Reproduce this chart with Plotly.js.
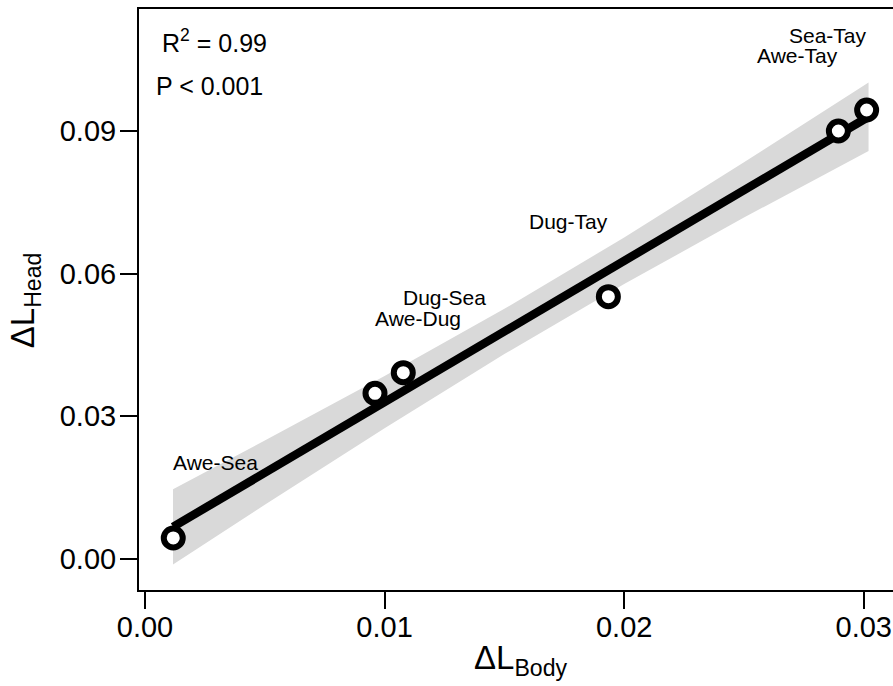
<!DOCTYPE html>
<html>
<head>
<meta charset="utf-8">
<script src="https://cdn.plot.ly/plotly-3.0.1.min.js"></script>
<style>
  html, body { margin: 0; padding: 0; background: #ffffff; }
  #chart { width: 893px; height: 686px; }
</style>
</head>
<body>
<div id="chart"></div>
<script>
// Pairwise population comparisons
const pairLabels = ["Awe-Sea", "Awe-Dug", "Dug-Sea", "Dug-Tay", "Awe-Tay", "Sea-Tay"];
const deltaBody  = [0.00118, 0.00960, 0.01078, 0.01934, 0.02894, 0.03012];
const deltaHead  = [0.00442, 0.03484, 0.03918, 0.05516, 0.09000, 0.09441];
const labelSide  = ["left", "left", "left", "right", "right", "right"];

// Fitted regression line
const fitX = [0.00117, 0.0302];
const fitY = [0.00675, 0.0930];

// Confidence band
const bandX     = [0.00117, 0.005, 0.010, 0.015, 0.020, 0.025, 0.0302];
const bandUpper = [0.01466, 0.0249, 0.0385, 0.0526, 0.0676, 0.0834, 0.1002];
const bandLower = [-0.00116, 0.0114, 0.0275, 0.0431, 0.0578, 0.0718, 0.0858];

const xTicks = [0.00, 0.01, 0.02, 0.03];
const xTickText = ["0.00", "0.01", "0.02", "0.03"];
const yTicks = [0.00, 0.03, 0.06, 0.09];
const yTickText = ["0.00", "0.03", "0.06", "0.09"];

const xTitle = "ΔL<sub>Body</sub>";
const yTitle = "ΔL<sub>Head</sub>";

const FONT = "Liberation Sans, Arial, Helvetica, sans-serif";

const traces = [
  {
    x: bandX.concat(bandX.slice().reverse()),
    y: bandUpper.concat(bandLower.slice().reverse()),
    type: "scatter", mode: "lines", fill: "toself",
    fillcolor: "#d9d9d9", line: { width: 0, color: "rgba(0,0,0,0)" },
    hoverinfo: "skip", showlegend: false
  },
  {
    x: fitX, y: fitY, type: "scatter", mode: "lines",
    line: { color: "#000000", width: 8.5 },
    showlegend: false
  },
  {
    x: deltaBody, y: deltaHead, type: "scatter", mode: "markers",
    marker: { size: 19, color: "#ffffff", line: { color: "#000000", width: 6 } },
    cliponaxis: false,
    showlegend: false
  }
];

const annotations = pairLabels.map((lab, i) => ({
  x: deltaBody[i], y: deltaHead[i], xref: "x", yref: "y",
  text: lab, showarrow: false,
  xanchor: labelSide[i], yanchor: "middle",
  yshift: 75, xshift: labelSide[i] === "left" ? -2 : 2,
  font: { family: FONT, size: 21, color: "#000000" }
}));

annotations.push({
  xref: "paper", yref: "paper", x: 0.028, y: 0.9453,
  xanchor: "left", yanchor: "middle", showarrow: false,
  text: "R<sup>2</sup> = 0.99",
  font: { family: FONT, size: 25, color: "#000000" }
});
annotations.push({
  xref: "paper", yref: "paper", x: 0.020, y: 0.8683,
  xanchor: "left", yanchor: "middle", showarrow: false,
  text: "P < 0.001",
  font: { family: FONT, size: 25, color: "#000000" }
});
// Axis titles
annotations.push({
  xref: "paper", yref: "paper", x: 0.5066, y: -0.121,
  xanchor: "center", yanchor: "middle", showarrow: false,
  text: xTitle,
  font: { family: FONT, size: 33, color: "#000000" }
});
annotations.push({
  xref: "paper", yref: "paper", x: -0.151, y: 0.499,
  xanchor: "center", yanchor: "middle", showarrow: false,
  textangle: -90,
  text: yTitle,
  font: { family: FONT, size: 33, color: "#000000" }
});

const layout = {
  width: 893, height: 686,
  margin: { l: 139, r: 0, t: 9, b: 96, pad: 0 },
  paper_bgcolor: "#ffffff", plot_bgcolor: "#ffffff",
  font: { family: FONT, color: "#000000" },
  showlegend: false,
  xaxis: {
    range: [-0.00025, 0.03122],
    tickvals: xTicks, ticktext: xTickText,
    ticks: "outside", ticklen: 17, tickwidth: 2, tickcolor: "#000000",
    ticklabelstandoff: -7,
    showline: true, linecolor: "#000000", linewidth: 2, mirror: true,
    showgrid: false, zeroline: false,
    tickfont: { family: FONT, size: 29, color: "#000000" }
  },
  yaxis: {
    range: [-0.00652, 0.11565],
    tickvals: yTicks, ticktext: yTickText,
    ticks: "outside", ticklen: 17, tickwidth: 2, tickcolor: "#000000",
    ticklabelstandoff: -2,
    showline: true, linecolor: "#000000", linewidth: 2, mirror: false,
    showgrid: false, zeroline: false,
    tickfont: { family: FONT, size: 29, color: "#000000" }
  },
  annotations: annotations
};

Plotly.newPlot("chart", traces, layout, { staticPlot: true, displayModeBar: false });
</script>
</body>
</html>
